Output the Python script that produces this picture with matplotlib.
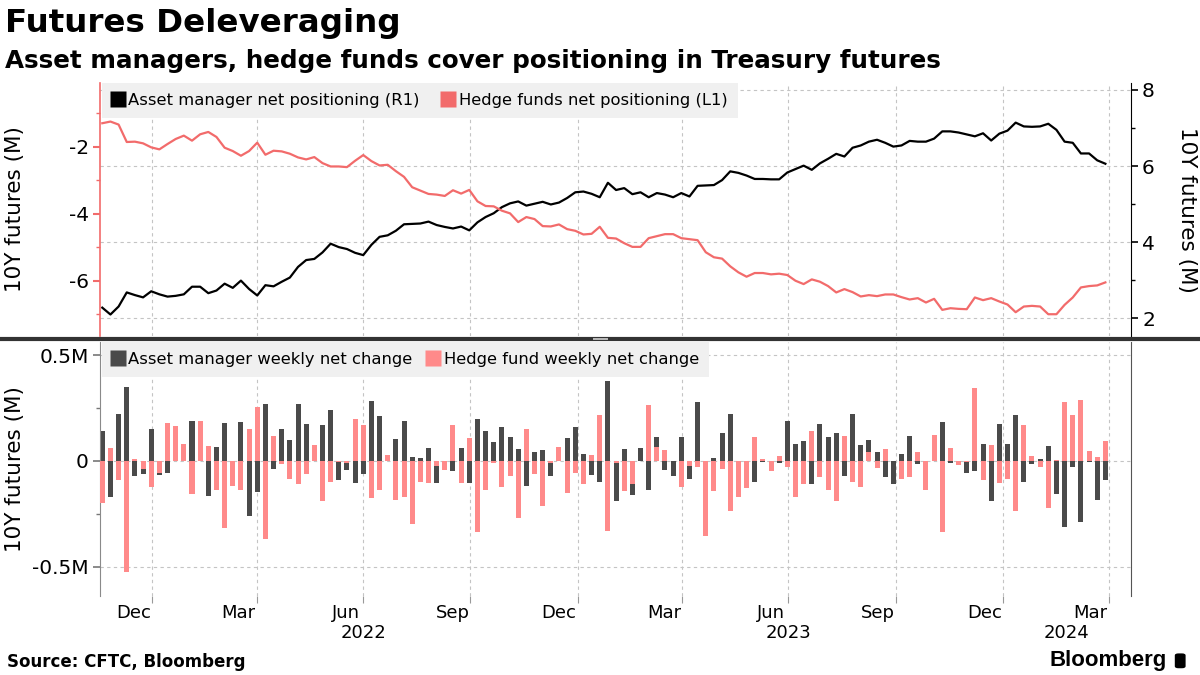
import matplotlib
matplotlib.use('Agg')
import matplotlib.pyplot as plt
import matplotlib.dates as mdates
import matplotlib.transforms as mtransforms
from matplotlib.lines import Line2D
from matplotlib.patches import FancyBboxPatch
import pandas as pd

plt.rcParams['font.family'] = 'DejaVu Sans'
plt.rcParams['axes.unicode_minus'] = False

# weekly CFTC dates
dates = pd.date_range('2021-11-19', periods=124, freq='7D')

# Asset manager net positioning, M contracts (right axis)
asset_pos = [2.28, 2.10, 2.31, 2.68, 2.61, 2.55, 2.71, 2.63, 2.57, 2.59,
             2.63, 2.83, 2.83, 2.66, 2.73, 2.91, 2.80, 2.99, 2.77, 2.60,
             2.87, 2.84, 2.96, 3.07, 3.35, 3.53, 3.56, 3.73, 3.96, 3.87,
             3.82, 3.72, 3.66, 3.93, 4.14, 4.18, 4.30, 4.47, 4.48, 4.49,
             4.54, 4.45, 4.40, 4.36, 4.41, 4.31, 4.52, 4.66, 4.76, 4.92,
             5.02, 5.07, 4.96, 5.01, 5.06, 4.99, 5.04, 5.16, 5.31, 5.33,
             5.27, 5.18, 5.56, 5.37, 5.42, 5.26, 5.31, 5.18, 5.29, 5.25,
             5.18, 5.29, 5.20, 5.48, 5.49, 5.50, 5.63, 5.86, 5.82, 5.75,
             5.66, 5.66, 5.65, 5.65, 5.83, 5.92, 6.01, 5.90, 6.07, 6.19,
             6.32, 6.25, 6.48, 6.54, 6.64, 6.69, 6.61, 6.51, 6.54, 6.66,
             6.64, 6.64, 6.72, 6.91, 6.91, 6.88, 6.83, 6.78, 6.86, 6.67,
             6.85, 6.93, 7.14, 7.04, 7.03, 7.04, 7.11, 6.95, 6.64, 6.61,
             6.33, 6.33, 6.15, 6.06]

# Hedge funds net positioning, M contracts (left axis)
hedge_pos = [-1.30, -1.25, -1.34, -1.86, -1.85, -1.90, -2.02, -2.08, -1.92, -1.77,
             -1.67, -1.82, -1.63, -1.56, -1.71, -2.03, -2.13, -2.27, -2.13, -1.88,
             -2.24, -2.12, -2.14, -2.21, -2.32, -2.38, -2.31, -2.49, -2.59, -2.59,
             -2.61, -2.42, -2.25, -2.43, -2.56, -2.54, -2.73, -2.90, -3.21, -3.31,
             -3.41, -3.43, -3.47, -3.30, -3.40, -3.29, -3.63, -3.77, -3.78, -3.91,
             -3.99, -4.25, -4.10, -4.16, -4.37, -4.38, -4.32, -4.46, -4.51, -4.62,
             -4.60, -4.39, -4.72, -4.74, -4.88, -4.99, -4.99, -4.73, -4.67, -4.61,
             -4.61, -4.73, -4.76, -4.79, -5.15, -5.30, -5.34, -5.57, -5.75, -5.88,
             -5.77, -5.77, -5.81, -5.79, -5.83, -6.00, -6.10, -5.96, -6.03, -6.16,
             -6.35, -6.25, -6.34, -6.47, -6.43, -6.46, -6.41, -6.41, -6.49, -6.56,
             -6.52, -6.65, -6.54, -6.87, -6.82, -6.84, -6.85, -6.50, -6.58, -6.52,
             -6.62, -6.71, -6.94, -6.77, -6.75, -6.77, -7.00, -7.00, -6.72, -6.50,
             -6.20, -6.16, -6.14, -6.05]

# weekly net change, M contracts
asset_chg = [0.14, -0.17, 0.22, 0.35, -0.07, -0.06, 0.15, -0.065, -0.055, 0.02,
             0.04, 0.19, 0.0, -0.165, 0.066, 0.18, -0.11, 0.183, -0.262, -0.146,
             0.268, -0.036, 0.15, 0.099, 0.268, 0.176, 0.03, 0.169, 0.24, -0.092,
             -0.042, -0.102, -0.061, 0.282, 0.212, 0.02, 0.103, 0.188, 0.019, 0.014,
             0.061, -0.102, -0.04, -0.045, 0.061, -0.102, 0.197, 0.141, 0.089, 0.16,
             0.113, 0.056, -0.116, 0.042, 0.052, -0.069, 0.04, 0.108, 0.16, 0.033,
             -0.064, -0.097, 0.376, -0.191, 0.056, -0.163, 0.061, -0.139, 0.113, -0.041,
             -0.069, 0.113, -0.083, 0.277, 0.0, 0.014, 0.132, 0.221, -0.04, -0.07,
             -0.097, -0.005, -0.01, -0.008, 0.188, 0.08, 0.094, -0.107, 0.174, 0.113,
             0.132, -0.069, 0.221, 0.075, 0.099, 0.042, -0.074, -0.107, 0.033, 0.118,
             -0.013, 0.0, 0.08, 0.183, -0.008, -0.02, -0.055, -0.045, 0.08, -0.191,
             0.174, 0.08, 0.216, -0.097, -0.013, 0.01, 0.07, -0.158, -0.313, -0.027,
             -0.29, -0.005, -0.182, -0.088]

hedge_chg = [-0.20, 0.061, -0.088, -0.525, 0.01, -0.038, -0.125, -0.055, 0.179, 0.165,
             0.08, -0.158, 0.188, 0.07, -0.135, -0.318, -0.116, -0.139, 0.15, 0.255,
             -0.37, 0.118, -0.013, -0.083, -0.107, -0.06, 0.075, -0.187, -0.097, -0.005,
             -0.01, 0.197, 0.169, -0.177, -0.135, 0.028, -0.182, -0.172, -0.30, -0.097,
             -0.102, -0.023, -0.041, 0.169, -0.102, 0.108, -0.337, -0.135, -0.008, -0.121,
             -0.069, -0.271, 0.15, -0.06, -0.215, -0.01, 0.066, -0.149, -0.055, -0.107,
             0.028, 0.216, -0.332, -0.01, -0.144, -0.108, 0.0, 0.263, 0.067, 0.052,
             0.0, -0.121, -0.023, -0.027, -0.356, -0.144, -0.036, -0.238, -0.172, -0.13,
             0.113, 0.01, -0.045, 0.024, -0.027, -0.172, -0.111, 0.141, -0.074, -0.139,
             -0.191, 0.118, -0.097, -0.125, 0.044, -0.031, 0.056, 0.0, -0.083, -0.078,
             0.042, -0.139, 0.122, -0.337, 0.061, -0.02, -0.005, 0.343, -0.092, 0.075,
             -0.102, -0.083, -0.238, 0.169, 0.024, -0.027, -0.224, 0.005, 0.277, 0.216,
             0.29, 0.047, 0.019, 0.094]

year_labels = ['2022', '2023', '2024']
year_pos = [pd.Timestamp('2022-07-01'), pd.Timestamp('2023-07-01'), pd.Timestamp('2024-02-25')]

RED = '#f26b6b'
PINK = '#ff8a8a'
DARK = '#4a4a4a'
GRID = '#c4c4c4'

fig = plt.figure(figsize=(12, 6.75), dpi=100)

# top panel: axR (asset manager, right scale), axL (hedge funds, left scale)
axR = fig.add_axes([0.0833, 0.5022, 0.8592, 0.3748])
axL = axR.twinx()
ax3 = fig.add_axes([0.0833, 0.1170, 0.8592, 0.3763], sharex=axR)

axR.plot(dates, asset_pos, color='black', lw=1.6, zorder=3)
axL.plot(dates, hedge_pos, color=RED, lw=1.6, zorder=3)

xmin, xmax = pd.Timestamp('2021-11-17'), pd.Timestamp('2024-04-20')
axR.set_xlim(xmin, xmax)

axR.yaxis.tick_right()
axR.yaxis.set_label_position('right')
axL.yaxis.tick_left()
axL.yaxis.set_label_position('left')

axR.set_ylim(1.535, 8.18)
axR.set_yticks([2, 4, 6, 8])
axR.set_yticks([3, 5, 7], minor=True)
axL.set_ylim(-7.65, -0.10)
axL.set_yticks([-6, -4, -2])
axL.set_yticks([-7, -5, -3, -1], minor=True)

for s in ['top', 'bottom', 'left']:
    axR.spines[s].set_visible(False)
for s in ['top', 'bottom', 'right']:
    axL.spines[s].set_visible(False)
axR.spines['right'].set_color('black')
axL.spines['left'].set_color(RED)
axL.spines['left'].set_linewidth(1.2)

axR.tick_params(axis='y', which='major', length=5, width=1.2, labelsize=14.5, pad=3)
axR.tick_params(axis='y', which='minor', length=3, width=1)
axL.tick_params(axis='y', which='major', length=5, width=1.5, colors=RED,
                labelcolor='black', labelsize=14.5, pad=3)
axL.tick_params(axis='y', which='minor', length=3, width=1, colors=RED)

axR.grid(axis='y', which='major', color=GRID, ls=(0, (3, 3)), lw=0.8)
axR.grid(axis='x', which='major', color=GRID, ls=(0, (3, 3)), lw=0.8)
axR.set_axisbelow(True)

axL.set_ylabel('10Y futures (M)', fontsize=15.5)
axL.yaxis.set_label_coords(-0.0727, 0.5)
axR.set_ylabel('10Y futures (M)', fontsize=15.5, rotation=270)
axR.yaxis.set_label_coords(1.064, 0.5)

# bottom panel: weekly changes, pink drawn over dark
ax3.bar(dates, asset_chg, width=4.3, color=DARK, zorder=2)
ax3.bar(dates, hedge_chg, width=4.3, color=PINK, zorder=3)
ax3.set_ylim(-0.638, 0.562)
ax3.set_yticks([-0.5, 0, 0.5])
ax3.set_yticklabels(['-0.5M', '0', '0.5M'])
ax3.set_yticks([-0.25, 0.25], minor=True)
ax3.spines['top'].set_visible(False)
ax3.spines['bottom'].set_visible(False)
ax3.spines['left'].set_color('#8a8a8a')
ax3.spines['right'].set_color('#555555')
ax3.tick_params(axis='y', which='major', length=5, width=1.2, colors='#777777',
                labelcolor='black', labelsize=14.5, pad=3)
ax3.tick_params(axis='y', which='minor', length=3, width=1, colors='#777777')
ax3.grid(axis='both', which='major', color=GRID, ls=(0, (3, 3)), lw=0.8)
ax3.set_axisbelow(True)
ax3.set_ylabel('10Y futures (M)', fontsize=15.5)
ax3.yaxis.set_label_coords(-0.0727, 0.5)

# x axis: quarter ticks, month names in mid-month
ax3.xaxis.set_major_locator(mdates.MonthLocator(bymonth=[1, 4, 7, 10]))
ax3.xaxis.set_major_formatter(plt.NullFormatter())
ax3.xaxis.set_minor_locator(mdates.MonthLocator(bymonth=[3, 6, 9, 12], bymonthday=16))
ax3.xaxis.set_minor_formatter(mdates.DateFormatter('%b'))
ax3.tick_params(axis='x', which='major', length=5, color='#999999', labelbottom=False)
ax3.tick_params(axis='x', which='minor', length=0, labelsize=13, pad=6)
axR.tick_params(axis='x', which='both', bottom=False, labelbottom=False)
axL.tick_params(axis='x', which='both', bottom=False, labelbottom=False)

trans = mtransforms.blended_transform_factory(ax3.transData, ax3.transAxes)
for lab, pos in zip(year_labels, year_pos):
    ax3.text(pos, -0.146, lab, transform=trans, ha='center', va='center', fontsize=13)

# legends
def sq(c, lab):
    return Line2D([], [], marker='s', ls='none', markerfacecolor=c,
                  markeredgecolor='none', markersize=11, label=lab)

leg1 = axL.legend(handles=[sq('black', 'Asset manager net positioning (R1)'),
                           sq(RED, 'Hedge funds net positioning (L1)')],
                  loc='upper left', bbox_to_anchor=(0.002, 1.0), ncol=2,
                  fontsize=11.8, frameon=True, fancybox=False, framealpha=1,
                  facecolor='#f0f0f0', edgecolor='none', handlelength=0.7,
                  handletextpad=0.3, columnspacing=1.4, borderpad=0.6,
                  borderaxespad=0)
leg1.set_zorder(10)
leg2 = ax3.legend(handles=[sq(DARK, 'Asset manager weekly net change'),
                           sq(PINK, 'Hedge fund weekly net change')],
                  loc='upper left', bbox_to_anchor=(0.002, 1.0), ncol=2,
                  fontsize=11.8, frameon=True, fancybox=False, framealpha=1,
                  facecolor='#f0f0f0', edgecolor='none', handlelength=0.7,
                  handletextpad=0.3, columnspacing=0.9, borderpad=0.6,
                  borderaxespad=0)
leg2.set_zorder(10)

# panel divider
ydiv = 1 - 338.5 / 675
fig.add_artist(Line2D([0, 1], [ydiv, ydiv], transform=fig.transFigure,
                      color='#333333', lw=3))
for dy in (-0.0012, 0.0012):
    fig.add_artist(Line2D([0.494, 0.506], [ydiv + dy, ydiv + dy],
                          transform=fig.transFigure, color='#bbbbbb', lw=0.7))

# titles and footer
fig.text(0.004, 0.988, 'Futures Deleveraging', fontsize=23.4, fontweight='bold',
         va='top', ha='left')
fig.text(0.004, 0.928, 'Asset managers, hedge funds cover positioning in Treasury futures',
         fontsize=17.7, fontweight='bold', va='top', ha='left')
fig.text(0.006, 0.019, 'Source: CFTC, Bloomberg', fontsize=12, fontweight='bold',
         va='center', ha='left')
fig.text(0.972, 0.022, 'Bloomberg', fontsize=16, fontweight='bold',
         family='Liberation Sans', va='center', ha='right')
fig.add_artist(FancyBboxPatch((0.979, 0.010), 0.009, 0.022, transform=fig.transFigure,
                              boxstyle='round,pad=0,rounding_size=0.003',
                              facecolor='black', edgecolor='none'))

fig.savefig('out.png', dpi=100)
